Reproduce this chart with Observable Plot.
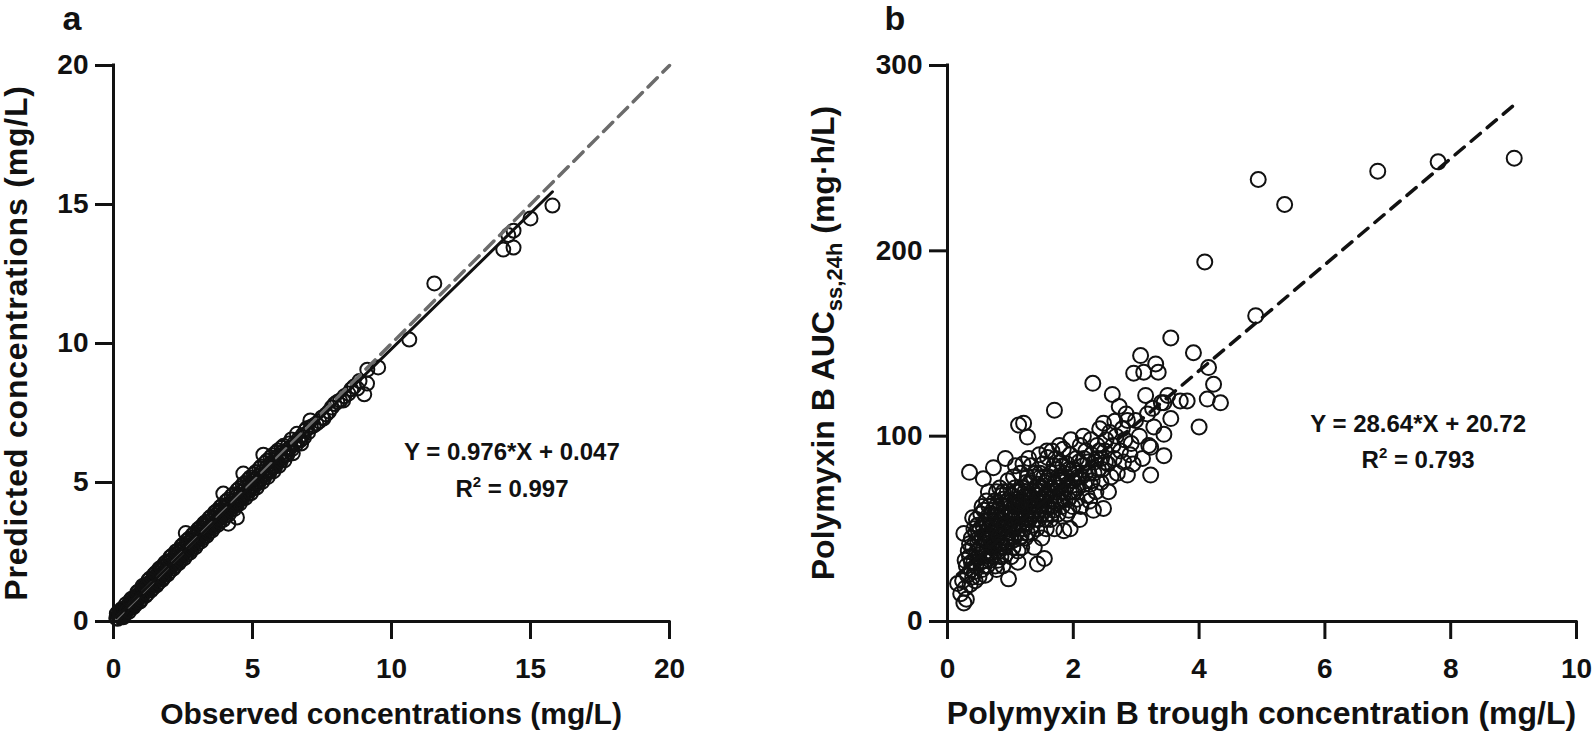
<!DOCTYPE html>
<html><head><meta charset="utf-8">
<script src="https://cdn.jsdelivr.net/npm/d3@7"></script>
<script src="https://cdn.jsdelivr.net/npm/@observablehq/plot@0.6"></script>
<style>
body{margin:0;background:#fff;width:1592px;height:734px;overflow:hidden;position:relative;}
#a{position:absolute;left:0;top:0}
#b{position:absolute;left:780px;top:0}
svg{overflow:visible}
</style></head><body>
<div id="a"></div><div id="b"></div>
<script>
// ---------- Panel a data ----------
const ticksA = [0, 5, 10, 15, 20];
const obsA = [
0.10,0.15,0.18,0.22,0.25,0.28,0.30,0.33,0.35,0.38,
0.40,0.42,0.45,0.47,0.50,0.52,0.55,0.57,0.60,0.62,
0.64,0.66,0.68,0.70,0.73,0.75,0.78,0.80,0.82,0.85,
0.87,0.90,0.92,0.95,0.97,1.00,1.02,1.05,1.08,1.10,
1.13,1.15,1.18,1.20,1.23,1.26,1.28,1.30,1.33,1.36,
1.38,1.41,1.44,1.46,1.50,1.52,1.55,1.58,1.60,1.63,
1.66,1.70,1.72,1.75,1.78,1.80,1.84,1.87,1.90,1.93,
1.96,2.00,2.03,2.06,2.10,2.13,2.16,2.20,2.24,2.27,
2.30,2.34,2.37,2.40,2.44,2.47,2.50,2.54,2.57,2.60,
2.62,2.65,2.68,2.72,2.75,2.78,2.82,2.85,2.88,2.92,
2.95,2.98,3.02,3.05,3.08,3.12,3.15,3.18,3.22,3.25,
3.28,3.32,3.35,3.38,3.42,3.45,3.48,3.52,3.55,3.58,
3.62,3.65,3.68,3.72,3.75,3.78,3.82,3.85,3.88,3.92,
3.95,3.98,4.02,4.05,4.10,4.13,4.15,4.20,4.25,4.30,
4.35,4.40,4.44,4.45,4.50,4.55,4.60,4.65,4.67,4.70,
4.75,4.80,4.85,4.90,4.95,5.00,5.05,5.10,5.15,5.20,
5.25,5.30,5.35,5.39,5.40,5.45,5.50,5.55,5.60,5.65,
5.70,5.75,5.80,5.85,5.90,5.95,6.00,6.05,6.10,6.15,
6.20,6.28,6.35,6.42,6.50,6.58,6.65,6.72,6.80,6.85,
6.90,6.95,7.00,7.08,7.10,7.20,7.30,7.40,7.50,7.55,
7.65,7.75,7.85,7.95,8.05,8.15,8.26,8.30,8.45,8.55,
8.65,8.77,8.85,9.02,9.12,9.13,9.52,10.64,11.54,14.02,
14.39,14.20,14.39,15.00,15.79,
0.20,0.35,0.45,0.55,0.65,0.72,0.85,0.95,1.05,1.15,
1.25,1.35,1.45,1.55,1.65,1.75,1.85,1.95,2.05,2.15,
2.25,2.35,2.45,2.55,2.65,2.75,2.85,2.95,3.05,3.15,
3.25,3.35,3.45,3.55,3.65,3.75,3.85,3.95,4.05,4.15,
4.25,4.35,4.45,4.55,4.65,4.75,4.85,4.95,5.05,5.15,
5.25,5.35,5.45,5.55,5.65,5.75,5.85,5.95,6.05,6.15,
6.30,6.45,6.60,6.75,
0.12,0.30,0.50,0.60,0.80,0.90,1.00,1.12,1.22,1.32,
1.42,1.52,1.62,1.72,1.82,1.92,2.02,2.12,2.22,2.32,
2.42,2.52,2.62,2.72,2.82,2.92,3.02,3.12,3.22,3.32,
3.42,3.52,3.62,3.72,3.82,3.92,4.02,4.12,4.22,4.32,
4.42,4.52,4.62,4.72,4.82,4.92,5.02,5.12,5.22,5.32,
5.42,5.52,5.62,5.72,5.82,5.92,6.02,6.12,6.25,6.40];
const predA = [
0.12,0.10,0.22,0.18,0.30,0.25,0.20,0.38,0.31,0.42,
0.35,0.28,0.48,0.40,0.55,0.45,0.50,0.62,0.52,0.66,
0.58,0.50,0.72,0.64,0.78,0.68,0.74,0.86,0.75,0.92,
0.80,0.85,0.98,0.88,1.05,0.94,1.10,0.98,1.20,1.02,
1.08,1.25,1.12,1.30,1.15,1.22,1.38,1.20,1.28,1.45,
1.30,1.36,1.55,1.40,1.45,1.62,1.48,1.50,1.72,1.56,
1.62,1.85,1.65,1.68,1.95,1.74,1.78,1.98,1.82,1.88,
2.10,1.92,1.98,2.18,2.02,2.08,2.28,2.12,2.18,2.40,
2.22,2.28,2.50,2.32,2.36,2.60,2.42,2.46,2.72,3.18,
2.55,2.58,2.82,2.64,2.68,2.92,2.74,2.78,3.02,2.84,
2.88,3.12,2.94,2.98,3.22,3.04,3.08,3.34,3.14,3.18,
3.45,3.24,3.28,3.55,3.34,3.36,3.62,3.42,3.46,3.72,
3.52,3.55,3.82,3.62,3.66,3.92,3.72,3.75,4.02,3.82,
4.60,3.88,4.12,3.94,3.98,3.52,4.22,4.08,4.12,4.35,
4.22,4.28,3.74,4.52,4.38,4.42,4.65,4.52,5.32,4.58,
4.80,4.66,4.72,4.95,4.82,4.86,5.10,4.96,5.00,5.22,
5.10,5.15,5.38,6.00,5.25,5.30,5.52,5.40,5.44,5.68,
5.55,5.58,5.80,5.70,5.74,5.96,5.85,5.90,6.10,6.00,
6.02,6.18,6.25,6.20,6.40,6.38,6.55,6.52,6.70,6.62,
6.87,6.95,6.80,7.23,7.00,7.05,7.12,7.20,7.34,7.30,
7.45,7.55,7.70,7.82,7.90,7.95,7.95,8.10,8.20,8.35,
8.45,8.38,8.65,8.17,8.56,9.06,9.14,10.14,12.16,13.38,
13.45,13.90,14.06,14.50,14.96,
0.35,0.15,0.62,0.35,0.82,0.52,1.05,0.72,1.28,0.92,
1.48,1.12,1.68,1.30,1.90,1.50,2.10,1.70,2.32,1.90,
2.52,2.10,2.72,2.28,2.92,2.48,3.12,2.68,3.32,2.88,
3.52,3.08,3.72,3.28,3.92,3.48,4.12,3.66,4.32,3.86,
4.52,4.05,4.72,4.25,4.92,4.45,5.10,4.62,5.30,4.82,
5.50,5.02,5.70,5.20,5.90,5.40,6.08,5.60,6.25,5.80,
6.40,6.05,6.75,6.40,
0.28,0.45,0.40,0.75,0.62,1.08,0.80,1.30,1.00,1.55,
1.20,1.75,1.40,1.95,1.60,2.15,1.80,2.38,2.00,2.55,
2.20,2.78,2.40,2.98,2.60,3.18,2.80,3.38,3.00,3.58,
3.20,3.78,3.40,3.98,3.60,4.18,3.80,4.38,4.00,4.58,
4.18,4.78,4.40,4.98,4.58,5.18,4.78,5.38,4.98,5.58,
5.18,5.78,5.38,5.98,5.58,6.15,5.78,6.32,6.00,6.55];
const fitA = {slope: 0.976, intercept: 0.047, eq: "Y = 0.976*X + 0.047", r2: "0.997"};

// ---------- Panel b data ----------
const ticksBx = [0, 2, 4, 6, 8, 10];
const ticksBy = [0, 100, 200, 300];
const troughB = [
0.16,0.21,0.26,0.24,0.28,0.30,0.26,0.35,0.30,0.32,
0.35,0.38,0.40,0.40,0.38,0.33,0.28,0.36,0.42,0.40,
0.45,0.48,0.50,0.52,0.55,0.46,0.57,0.60,0.62,0.58,
0.65,0.63,0.68,0.70,0.66,0.50,0.55,0.60,0.70,0.45,
0.52,0.62,0.68,0.48,0.58,0.64,0.70,0.55,0.60,0.66,
0.73,0.72,0.75,0.78,0.80,0.82,0.85,0.88,0.90,0.92,
0.95,0.97,0.75,0.78,0.80,0.83,0.86,0.88,0.90,0.93,
0.95,0.98,0.76,0.84,0.92,0.98,0.72,0.80,0.87,0.94,
1.00,0.78,0.85,0.90,0.96,1.02,1.05,1.08,1.10,1.13,
1.21,1.27,1.15,1.18,1.20,1.22,1.25,1.28,1.30,1.04,
1.07,1.12,1.16,1.24,1.30,1.06,1.10,1.14,1.19,1.23,
1.27,1.03,1.09,1.17,1.26,1.01,1.20,1.12,1.29,1.05,
1.32,1.35,1.38,1.40,1.43,1.54,1.45,1.48,1.50,1.52,
1.55,1.58,1.59,1.60,1.34,1.37,1.42,1.46,1.50,1.56,
1.33,1.40,1.47,1.53,1.57,1.36,1.44,1.52,1.58,1.38,
1.62,1.65,1.68,1.70,1.70,1.72,1.75,1.78,1.80,1.82,
1.84,1.85,1.95,1.88,1.90,1.92,1.95,1.98,2.00,1.64,
1.74,1.76,1.86,1.94,1.66,1.80,1.90,1.99,1.70,1.96,
2.02,2.05,2.08,2.11,2.12,2.15,2.18,2.20,2.22,2.25,
2.28,2.31,2.30,2.34,2.36,2.38,2.40,2.42,2.45,2.48,
2.48,2.50,2.10,2.26,2.44,2.16,2.32,2.06,2.52,2.55,
2.58,2.60,2.62,2.63,2.65,2.68,2.70,2.73,2.75,2.78,
2.80,2.82,2.86,2.86,2.90,2.95,2.96,2.99,2.56,2.66,
2.84,2.92,3.05,3.07,3.12,3.15,3.18,3.20,3.23,3.23,
3.26,3.28,3.31,3.35,3.40,3.44,3.44,3.44,3.50,3.55,
3.55,3.10,3.70,3.81,3.91,4.00,4.13,4.15,4.23,4.34,
4.09,4.90,4.94,5.36,6.84,7.80,9.01,
0.35,0.42,0.44,0.47,0.50,0.53,0.56,0.58,0.61,0.63,
0.65,0.67,0.69,0.71,0.74,0.76,0.77,0.79,0.81,0.83,
0.85,0.87,0.89,0.91,0.93,0.95,0.97,0.99,1.01,1.03,
1.05,1.07,1.09,1.11,1.13,1.15,1.17,1.19,1.21,1.23,
1.25,1.27,1.29,1.31,1.33,1.35,1.37,1.39,1.41,1.43,
1.45,1.47,1.49,1.51,1.53,1.55,1.57,1.59,1.61,1.63,
1.65,1.67,1.69,1.71,1.73,1.75,1.77,1.79,1.81,1.83,
1.87,1.89,1.91,1.93,1.97,2.01,2.04,2.07,2.09,2.13,
2.17,2.19,2.23,2.27,2.29,2.33,2.37,2.41,2.46,2.51,
0.38,0.43,0.48,0.53,0.57,0.62,0.67,0.72,0.77,0.82,
0.86,0.91,0.96,1.02,1.08,1.14,1.18,1.24,1.28,1.34,
1.39,1.44,1.49,1.54,1.60,1.66,1.72,1.78,1.83,1.93];
const aucB = [
20.5,15,10,22,18,12,47.5,80.5,30,25,
35,28,56,40,45,38,33,20,32,24,
30,42,36,50,28,55,77,45,38,60,
70,52,33,48,42,24,62,25,58,48,
40,65,55,34,30,46,40,45,54,62,
83,35,50,44,60,38,55,66,48,88,
58,23,65,28,52,72,42,30,62,45,
70,52,57,48,36,64,42,33,58,53,
45,70,63,40,76,55,62,84,48,106,
107,99.5,70,58,65,50,75,60,68,40,
72,38,80,45,55,50,66,56,72,62,
78,68,59,46,53,35,85,32,88,78,
62,70,55,80,31,34,65,72,58,85,
68,76,88.5,62,48,78,50,90,45,55,
84,66,60,78,50,58,74,66,92,40,
70,80,60,114,75,88,68,95,78,62,
93,49,50,72,85,66,90,76,82,55,
82,58,80,70,92,65,58,62,50,98,
70,88,78,95,62,84,74,92,68,80,
98,128.5,76,86,70,95,82,104,88,61,
107,92,55,65,75,100,60,66,98,85,
102,78,122.5,95,88,100,80,116,92,104,
86,98,79,108.5,90,85,134,108.5,70,108,
112,96,100,143.5,134.5,122,112,95,94,79,
115,105,139,134.5,118,118,101,89.5,122,153,
109.5,88,119,119,145,105,120,137,128,118,
194,165,238.5,225,243,248,250,
42,50,22,38,45,32,52,40,48,30,
57,36,45,52,40,30,62,48,55,42,
35,50,70,57,62,42,48,58,65,52,
44,56,70,62,52,45,65,52,60,70,
56,48,64,75,58,52,64,72,58,68,
55,80,66,72,60,75,68,58,78,66,
72,62,84,70,64,78,72,86,70,76,
66,78,74,82,70,76,80,72,86,78,
88,80,86,74,90,80,88,92,82,86,
32,27,52,58,35,44,50,60,38,46,
68,52,45,60,52,64,40,68,55,66,
62,60,70,64,70,58,74,66,84,60];
const fitB = {slope: 28.64, intercept: 20.72, eq: "Y = 28.64*X + 20.72", r2: "0.793"};

// ---------- shared style ----------
const FONT = '"Liberation Sans", Arial, Helvetica, sans-serif';
const INK = "#111";
const axisOpts = {tickSize: 18, strokeWidth: 3, stroke: INK, fill: INK, label: null, fontSize: 28, fontWeight: "bold"};

// ---------- Panel a ----------
const dataA = obsA.map((x, i) => ({x, y: predA[i]}));
const fitLineA = d3.extent(obsA).map(x => ({x, y: fitA.slope * x + fitA.intercept}));
const idLine = d3.extent(ticksA).map(v => ({x: v, y: v}));

const plotA = Plot.plot({
  width: 780, height: 734,
  marginLeft: 113, marginRight: 111, marginTop: 65, marginBottom: 113,
  x: {domain: d3.extent(ticksA)}, y: {domain: d3.extent(ticksA)},
  style: {fontFamily: FONT, fontWeight: "bold", color: INK, background: "transparent", overflow: "visible"},
  marks: [
    Plot.dot(dataA, {x: "x", y: "y", r: 7, stroke: INK, strokeWidth: 2, fill: "none"}),
    Plot.line(idLine, {x: "x", y: "y", stroke: "#6b6b6b", strokeWidth: 3.5, strokeDasharray: "13,8"}),
    Plot.line(fitLineA, {x: "x", y: "y", stroke: INK, strokeWidth: 3}),
    Plot.ruleY([0], {stroke: INK, strokeWidth: 3, strokeLinecap: "square"}),
    Plot.ruleX([0], {stroke: INK, strokeWidth: 3, strokeLinecap: "square"}),
    Plot.axisX({...axisOpts, ticks: ticksA, tickPadding: 19}),
    Plot.axisY({...axisOpts, ticks: ticksA, tickPadding: 7})
  ]
});
document.getElementById("a").appendChild(plotA);

// ---------- Panel b ----------
const dataB = troughB.map((x, i) => ({x, y: aucB[i]}));
const fitLineB = d3.extent(troughB).map(x => ({x, y: fitB.slope * x + fitB.intercept}));

const plotB = Plot.plot({
  width: 812, height: 734,
  marginLeft: 167, marginRight: 16, marginTop: 65, marginBottom: 113,
  x: {domain: d3.extent(ticksBx)}, y: {domain: d3.extent(ticksBy)},
  style: {fontFamily: FONT, fontWeight: "bold", color: INK, background: "transparent", overflow: "visible"},
  marks: [
    Plot.dot(dataB, {x: "x", y: "y", r: 7.5, stroke: INK, strokeWidth: 2, fill: "none"}),
    Plot.line(fitLineB, {x: "x", y: "y", stroke: INK, strokeWidth: 3.5, strokeDasharray: "12,9"}),
    Plot.ruleY([0], {stroke: INK, strokeWidth: 3, strokeLinecap: "square"}),
    Plot.ruleX([0], {stroke: INK, strokeWidth: 3, strokeLinecap: "square"}),
    Plot.axisX({...axisOpts, ticks: ticksBx, tickPadding: 19}),
    Plot.axisY({...axisOpts, ticks: ticksBy, tickPadding: 7})
  ]
});
document.getElementById("b").appendChild(plotB);

// ---------- texts (titles, equations, panel letters) ----------
function addText(svg, x, y, size, str, opts = {}) {
  const t = d3.select(svg).append("text")
    .attr("x", x).attr("y", y)
    .attr("text-anchor", opts.anchor || "middle")
    .attr("fill", INK)
    .style("font-family", FONT).style("font-weight", "bold")
    .style("font-size", size + "px");
  if (opts.spacing) t.style("letter-spacing", opts.spacing + "px");
  if (opts.rotate) t.attr("transform", `rotate(-90 ${x} ${y})`);
  if (str !== null) t.text(str);
  return t;
}
function addR2(svg, x, y, value) {
  const t = addText(svg, x, y, 24, null);
  t.append("tspan").text("R");
  t.append("tspan").attr("dy", -10).style("font-size", "15px").text("2");
  t.append("tspan").attr("dy", 10).text(" = " + value);
}

// panel a
{
  const sx = plotA.scale("x"), sy = plotA.scale("y");
  const cx = (sx.apply(ticksA[0]) + sx.apply(ticksA[4])) / 2;
  const cy = (sy.apply(ticksA[0]) + sy.apply(ticksA[4])) / 2;
  addText(plotA, cx, 724, 30, "Observed concentrations (mg/L)");
  addText(plotA, 27, cy, 32, "Predicted concentrations (mg/L)", {rotate: true, spacing: 0.8});
  addText(plotA, 72, 30, 34, "a");
  addText(plotA, sx.apply(14.35), sy.apply(5.79), 24, fitA.eq);
  addR2(plotA, sx.apply(14.35), sy.apply(4.46), fitA.r2);
}
// panel b
{
  const sx = plotB.scale("x"), sy = plotB.scale("y");
  const cx = (sx.apply(ticksBx[0]) + sx.apply(ticksBx[5])) / 2;
  const cy = (sy.apply(ticksBy[0]) + sy.apply(ticksBy[3])) / 2;
  addText(plotB, cx, 724, 32, "Polymyxin B trough concentration (mg/L)");
  const yt = addText(plotB, 54, cy, 32, null, {rotate: true});
  yt.append("tspan").text("Polymyxin B AUC");
  yt.append("tspan").attr("dy", 8).style("font-size", "22px").text("ss,24h");
  yt.append("tspan").attr("dy", -8).text(" (mg\u00b7h/L)");
  addText(plotB, 115, 30, 34, "b");
  addText(plotB, sx.apply(7.49), sy.apply(102), 24, fitB.eq);
  addR2(plotB, sx.apply(7.49), sy.apply(82.6), fitB.r2);
}
</script>
</body></html>
